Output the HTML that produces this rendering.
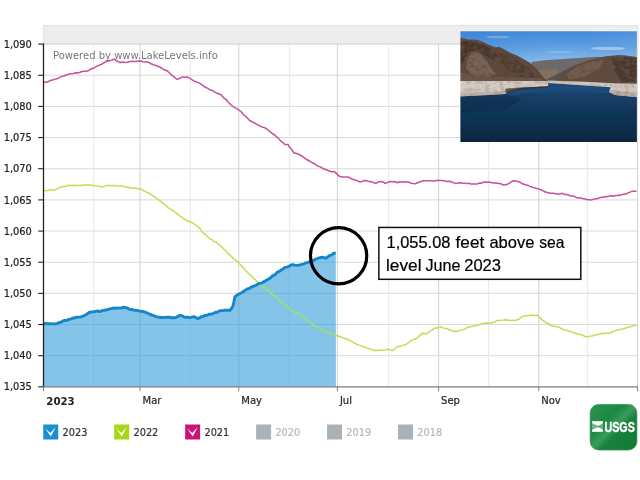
<!DOCTYPE html>
<html><head><meta charset="utf-8"><title>Lake Mead water level</title>
<style>
html,body{margin:0;padding:0;background:#fff;}
body{width:640px;height:480px;overflow:hidden;position:relative;font-family:"DejaVu Sans","Liberation Sans",sans-serif;}
svg{position:absolute;left:0;top:0;}
text{font-family:"DejaVu Sans","Liberation Sans",sans-serif;}
.t{stroke:#222;stroke-width:0.22px;}
.ann{stroke:#000;stroke-width:0.2px;}
.cal{font-family:"Liberation Sans",sans-serif;}
</style></head><body>
<svg width="640" height="480" viewBox="0 0 640 480">
<defs>
<linearGradient id="sky" x1="0" y1="0" x2="0" y2="1"><stop offset="0" stop-color="#3f86d9"/><stop offset="0.25" stop-color="#5a9ce0"/><stop offset="0.5" stop-color="#86b9ea"/><stop offset="1" stop-color="#9cc8ee"/></linearGradient>
<linearGradient id="water" x1="0" y1="0" x2="0" y2="1"><stop offset="0" stop-color="#1f4d7e"/><stop offset="0.28" stop-color="#153e66"/><stop offset="0.55" stop-color="#103457"/><stop offset="1" stop-color="#0c2640"/></linearGradient>
<linearGradient id="usgs" x1="0" y1="0" x2="1" y2="1"><stop offset="0" stop-color="#2a9450"/><stop offset="0.35" stop-color="#1c8843"/><stop offset="0.5" stop-color="#3a9c5d"/><stop offset="0.6" stop-color="#18823d"/><stop offset="1" stop-color="#117a36"/></linearGradient>
<linearGradient id="skyh" x1="0" y1="0" x2="1" y2="0"><stop offset="0" stop-color="#2f78d0" stop-opacity="0.35"/><stop offset="0.6" stop-color="#5a9be0" stop-opacity="0"/><stop offset="1" stop-color="#7ab0e8" stop-opacity="0.25"/></linearGradient>
<filter id="soft" x="-5%" y="-5%" width="110%" height="110%"><feGaussianBlur stdDeviation="0.45"/></filter>
<filter id="rock" filterUnits="userSpaceOnUse" x="455" y="28" width="186" height="120"><feTurbulence type="fractalNoise" baseFrequency="0.2 0.26" numOctaves="3" seed="7" result="n"/><feColorMatrix in="n" type="matrix" values="0 0 0 0 0.12  0 0 0 0 0.08  0 0 0 0 0.06  0 0 0 -5 2.7" result="d"/><feComposite in="d" in2="SourceGraphic" operator="in"/></filter>
<filter id="rockl" filterUnits="userSpaceOnUse" x="455" y="28" width="186" height="120"><feTurbulence type="fractalNoise" baseFrequency="0.4" numOctaves="2" seed="11" result="n"/><feColorMatrix in="n" type="matrix" values="0 0 0 0 0.95  0 0 0 0 0.9  0 0 0 0 0.85  0 0 0 4.0 -2.3" result="d"/><feComposite in="d" in2="SourceGraphic" operator="in"/></filter>
<filter id="lb" filterUnits="userSpaceOnUse" x="0" y="0" width="640" height="480"><feGaussianBlur stdDeviation="0.4"/></filter>
<clipPath id="photoclip"><rect x="460.4" y="31.2" width="176.5" height="110.9"/></clipPath>
</defs>

<rect x="43.5" y="25.4" width="594.6" height="18.6" fill="#ededed" stroke="#e3e3e3" stroke-width="1"/>
<line x1="43.5" y1="44.10" x2="638.0" y2="44.10" stroke="#d2d2d2" stroke-width="0.85"/>
<line x1="43.5" y1="75.26" x2="638.0" y2="75.26" stroke="#d2d2d2" stroke-width="0.85"/>
<line x1="43.5" y1="106.42" x2="638.0" y2="106.42" stroke="#d2d2d2" stroke-width="0.85"/>
<line x1="43.5" y1="137.58" x2="638.0" y2="137.58" stroke="#d2d2d2" stroke-width="0.85"/>
<line x1="43.5" y1="168.74" x2="638.0" y2="168.74" stroke="#d2d2d2" stroke-width="0.85"/>
<line x1="43.5" y1="199.90" x2="638.0" y2="199.90" stroke="#d2d2d2" stroke-width="0.85"/>
<line x1="43.5" y1="231.06" x2="638.0" y2="231.06" stroke="#d2d2d2" stroke-width="0.85"/>
<line x1="43.5" y1="262.22" x2="638.0" y2="262.22" stroke="#d2d2d2" stroke-width="0.85"/>
<line x1="43.5" y1="293.38" x2="638.0" y2="293.38" stroke="#d2d2d2" stroke-width="0.85"/>
<line x1="43.5" y1="324.54" x2="638.0" y2="324.54" stroke="#d2d2d2" stroke-width="0.85"/>
<line x1="43.5" y1="355.70" x2="638.0" y2="355.70" stroke="#d2d2d2" stroke-width="0.85"/>
<line x1="43.5" y1="386.86" x2="638.0" y2="386.86" stroke="#d2d2d2" stroke-width="0.85"/>
<line x1="93.75" y1="44.1" x2="93.75" y2="386.86" stroke="#e6e6ea" stroke-width="0.9"/>
<line x1="140.00" y1="44.1" x2="140.00" y2="386.86" stroke="#cdcdcd" stroke-width="0.9"/>
<line x1="190.40" y1="44.1" x2="190.40" y2="386.86" stroke="#e6e6ea" stroke-width="0.9"/>
<line x1="238.75" y1="44.1" x2="238.75" y2="386.86" stroke="#cdcdcd" stroke-width="0.9"/>
<line x1="289.40" y1="44.1" x2="289.40" y2="386.86" stroke="#e6e6ea" stroke-width="0.9"/>
<line x1="337.40" y1="44.1" x2="337.40" y2="386.86" stroke="#cdcdcd" stroke-width="0.9"/>
<line x1="388.60" y1="44.1" x2="388.60" y2="386.86" stroke="#e6e6ea" stroke-width="0.9"/>
<line x1="438.60" y1="44.1" x2="438.60" y2="386.86" stroke="#cdcdcd" stroke-width="0.9"/>
<line x1="488.50" y1="44.1" x2="488.50" y2="386.86" stroke="#e6e6ea" stroke-width="0.9"/>
<line x1="538.75" y1="44.1" x2="538.75" y2="386.86" stroke="#cdcdcd" stroke-width="0.9"/>
<line x1="587.60" y1="44.1" x2="587.60" y2="386.86" stroke="#e6e6ea" stroke-width="0.9"/>
<line x1="637.50" y1="44.1" x2="637.50" y2="386.86" stroke="#cdcdcd" stroke-width="0.9"/>
<path d="M43.50,323.75 L45.83,323.51 L48.17,323.79 L50.50,323.63 L52.83,323.84 L55.17,323.86 L57.50,323.36 L59.17,322.48 L60.83,322.39 L62.50,321.03 L64.50,320.41 L66.50,320.50 L68.50,319.42 L70.50,319.15 L72.50,318.23 L74.50,317.98 L76.50,317.14 L78.50,317.17 L80.50,316.98 L82.50,316.27 L84.69,315.34 L86.88,314.15 L89.06,312.48 L91.25,311.98 L93.44,311.71 L95.62,311.32 L97.81,310.95 L100.00,311.58 L102.25,310.63 L104.50,310.25 L106.75,309.79 L109.00,309.04 L111.25,308.63 L113.33,308.03 L115.42,308.27 L117.50,307.83 L119.58,308.14 L121.67,307.97 L123.75,307.14 L125.75,307.67 L127.75,308.25 L129.75,309.42 L131.75,309.44 L133.75,310.11 L136.00,310.22 L138.25,310.81 L140.50,311.10 L142.75,311.47 L145.00,312.08 L146.88,312.83 L148.75,313.86 L150.62,314.41 L152.50,315.39 L154.38,315.95 L156.25,316.69 L158.12,317.03 L160.00,317.20 L162.50,317.57 L165.00,317.42 L167.50,317.11 L169.58,317.23 L171.67,317.78 L173.75,317.74 L175.83,317.47 L177.92,316.40 L180.00,315.31 L181.88,315.61 L183.75,316.82 L185.62,317.44 L187.50,317.13 L189.58,317.60 L191.67,317.09 L193.75,316.69 L195.62,317.44 L197.50,318.49 L199.38,317.96 L201.25,316.59 L203.12,316.48 L205.00,315.34 L207.00,315.30 L209.00,314.30 L211.00,314.14 L213.00,313.58 L215.00,312.50 L216.88,312.45 L218.75,311.33 L220.62,310.62 L222.50,310.59 L225.00,310.08 L227.50,310.23 L230.00,310.42 L231.50,308.47 L233.00,305.94 L233.40,303.84 L233.80,302.58 L234.20,300.08 L234.60,298.66 L235.00,296.61 L236.88,295.14 L238.75,294.21 L240.50,293.17 L242.25,292.18 L244.00,291.04 L245.75,289.90 L247.50,288.86 L249.50,288.30 L251.50,287.06 L253.50,286.14 L255.50,285.55 L257.50,284.26 L259.50,283.42 L261.50,283.13 L263.50,281.82 L265.50,280.94 L267.50,279.56 L269.17,278.67 L270.83,277.57 L272.50,275.82 L274.17,275.10 L275.83,273.87 L277.50,272.10 L279.38,271.36 L281.25,269.97 L283.12,268.91 L285.00,267.37 L286.88,267.06 L288.75,266.46 L290.62,265.19 L292.50,264.60 L295.00,265.16 L297.50,265.42 L300.00,264.78 L302.00,264.31 L304.00,263.78 L306.00,262.89 L308.00,262.28 L310.00,261.58 L312.00,260.78 L314.00,260.14 L316.00,259.02 L318.00,258.24 L320.00,257.75 L322.08,257.17 L324.17,257.76 L326.25,258.01 L328.12,256.53 L330.00,255.35 L331.88,254.77 L333.75,253.16 L335.80,253.10 L335.9,386.86 L43.5,386.86 Z" fill="#2b9ad8" fill-opacity="0.58"/>
<path d="M43.50,190.50 L45.55,190.75 L47.60,190.64 L49.65,189.86 L51.70,189.78 L53.75,190.25 L55.83,189.35 L57.92,188.46 L60.00,187.35 L62.19,187.08 L64.38,186.58 L66.56,186.06 L68.75,185.24 L71.07,185.38 L73.39,185.28 L75.71,185.46 L78.04,185.59 L80.36,185.48 L82.68,185.11 L85.00,184.96 L87.19,185.01 L89.38,185.02 L91.56,185.20 L93.75,185.72 L96.25,185.95 L98.75,186.33 L101.25,187.05 L103.33,186.44 L105.42,186.13 L107.50,185.55 L109.58,185.39 L111.67,185.62 L113.75,185.47 L115.83,185.76 L117.92,186.13 L120.00,185.88 L122.00,185.86 L124.00,186.75 L126.00,187.03 L128.00,187.33 L130.00,187.81 L132.00,187.95 L134.00,188.22 L136.00,188.14 L138.00,188.87 L140.00,189.10 L142.00,189.49 L144.00,190.94 L146.00,191.91 L148.00,192.72 L150.00,193.77 L151.67,194.88 L153.33,196.36 L155.00,197.18 L156.67,198.57 L158.33,199.35 L160.00,200.89 L161.88,202.48 L163.75,203.72 L165.62,205.38 L167.50,207.22 L169.25,208.31 L171.00,209.37 L172.75,210.41 L174.50,211.73 L176.25,213.25 L178.00,214.11 L179.75,215.93 L181.50,216.70 L183.25,218.45 L185.00,219.26 L187.08,220.70 L189.17,221.46 L191.25,222.25 L193.13,223.38 L195.02,224.60 L196.90,225.67 L198.30,227.03 L199.70,228.53 L201.10,230.33 L202.50,232.23 L204.00,233.36 L205.50,234.32 L207.00,236.25 L208.50,237.55 L210.00,239.06 L212.08,239.77 L214.17,241.44 L216.25,242.16 L218.12,244.18 L220.00,245.45 L221.88,246.98 L223.75,249.04 L225.00,249.90 L226.25,251.67 L227.50,253.37 L229.27,254.47 L231.03,256.01 L232.80,258.09 L234.57,259.31 L236.33,261.10 L238.10,262.14 L239.67,264.06 L241.23,265.58 L242.80,267.63 L244.37,268.85 L245.93,271.18 L247.50,272.14 L249.11,274.19 L250.71,275.16 L252.32,276.86 L253.93,278.80 L255.54,279.81 L257.14,281.35 L258.75,283.25 L260.50,284.39 L262.25,285.51 L264.00,287.61 L265.75,288.36 L267.50,289.65 L268.75,291.13 L270.00,292.59 L271.88,294.25 L273.75,295.33 L275.62,297.06 L277.50,298.39 L279.25,300.08 L281.00,301.69 L282.75,303.04 L284.50,304.54 L286.25,305.79 L287.81,307.29 L289.38,308.58 L290.94,309.82 L292.50,311.04 L294.58,312.21 L296.67,312.78 L298.75,313.45 L300.62,315.12 L302.50,316.86 L304.38,317.70 L306.25,319.46 L308.12,320.72 L310.00,322.21 L311.88,323.33 L313.75,325.35 L315.83,326.07 L317.92,327.58 L320.00,328.69 L322.08,329.63 L324.17,331.29 L326.25,332.23 L328.44,332.79 L330.62,333.40 L332.81,334.12 L335.00,334.69 L337.08,335.74 L339.17,336.27 L341.25,337.27 L343.12,337.88 L345.00,338.58 L347.00,339.01 L349.00,340.18 L351.00,341.04 L353.00,342.31 L355.00,343.34 L357.00,344.33 L359.00,345.11 L361.00,345.62 L363.00,346.59 L365.00,347.52 L367.19,347.87 L369.38,348.65 L371.56,349.68 L373.75,350.20 L375.94,350.67 L378.12,350.30 L380.31,350.20 L382.50,350.26 L384.58,349.88 L386.67,349.45 L388.75,349.27 L390.62,349.97 L392.50,350.61 L394.17,349.36 L395.83,347.53 L397.50,346.56 L400.00,346.19 L402.50,345.59 L405.00,344.95 L406.88,343.76 L408.75,342.56 L410.62,340.91 L412.50,339.94 L415.00,339.02 L417.50,337.76 L419.17,336.02 L420.83,334.90 L422.50,332.90 L424.38,333.39 L426.25,334.07 L428.12,332.58 L430.00,331.09 L431.88,330.37 L433.75,328.65 L435.62,327.95 L437.50,328.02 L439.38,327.13 L441.25,326.85 L443.12,327.88 L445.00,328.38 L446.88,328.51 L448.75,329.46 L450.83,330.18 L452.92,330.99 L455.00,331.53 L457.08,331.40 L459.17,330.59 L461.25,330.34 L463.33,329.40 L465.42,328.83 L467.50,327.18 L469.38,327.26 L471.25,326.39 L473.12,326.24 L475.00,325.67 L476.88,325.22 L478.75,324.94 L480.62,324.17 L482.50,323.46 L485.00,323.21 L487.50,322.93 L490.00,323.27 L491.88,322.54 L493.75,322.22 L495.62,321.46 L497.50,320.39 L500.00,320.45 L502.50,320.13 L505.00,319.67 L507.50,320.00 L510.00,320.39 L512.50,320.30 L515.00,320.39 L517.50,319.82 L519.06,318.89 L520.62,317.73 L522.19,316.97 L523.75,315.73 L526.04,315.83 L528.33,315.76 L530.62,315.35 L532.92,315.30 L535.21,315.49 L537.50,315.32 L539.17,316.95 L540.83,318.64 L542.50,320.32 L544.38,321.32 L546.25,322.74 L548.12,323.44 L550.00,324.89 L552.00,325.98 L554.00,325.93 L556.00,326.74 L558.00,327.07 L560.00,327.69 L562.00,329.05 L564.00,329.87 L566.00,330.36 L568.00,330.72 L570.00,331.60 L572.00,332.10 L574.00,332.98 L576.00,333.54 L578.00,333.90 L580.00,334.52 L581.88,334.83 L583.75,335.78 L585.62,336.72 L587.50,337.19 L589.38,336.19 L591.25,336.01 L593.12,335.66 L595.00,334.82 L596.88,334.86 L598.75,334.10 L600.62,333.84 L602.50,333.18 L605.00,333.54 L607.50,333.30 L610.00,333.06 L611.88,331.98 L613.75,331.46 L615.62,330.39 L617.50,330.07 L619.38,329.85 L621.25,328.88 L623.12,328.70 L625.00,328.24 L626.88,327.55 L628.75,327.16 L630.62,326.71 L632.50,325.91 L634.50,325.35 L636.50,325.00" fill="none" stroke="#c3dc55" stroke-width="1.5" filter="url(#lb)" stroke-linejoin="round"/>
<clipPath id="fillclip"><path d="M43.50,323.75 L45.83,323.51 L48.17,323.79 L50.50,323.63 L52.83,323.84 L55.17,323.86 L57.50,323.36 L59.17,322.48 L60.83,322.39 L62.50,321.03 L64.50,320.41 L66.50,320.50 L68.50,319.42 L70.50,319.15 L72.50,318.23 L74.50,317.98 L76.50,317.14 L78.50,317.17 L80.50,316.98 L82.50,316.27 L84.69,315.34 L86.88,314.15 L89.06,312.48 L91.25,311.98 L93.44,311.71 L95.62,311.32 L97.81,310.95 L100.00,311.58 L102.25,310.63 L104.50,310.25 L106.75,309.79 L109.00,309.04 L111.25,308.63 L113.33,308.03 L115.42,308.27 L117.50,307.83 L119.58,308.14 L121.67,307.97 L123.75,307.14 L125.75,307.67 L127.75,308.25 L129.75,309.42 L131.75,309.44 L133.75,310.11 L136.00,310.22 L138.25,310.81 L140.50,311.10 L142.75,311.47 L145.00,312.08 L146.88,312.83 L148.75,313.86 L150.62,314.41 L152.50,315.39 L154.38,315.95 L156.25,316.69 L158.12,317.03 L160.00,317.20 L162.50,317.57 L165.00,317.42 L167.50,317.11 L169.58,317.23 L171.67,317.78 L173.75,317.74 L175.83,317.47 L177.92,316.40 L180.00,315.31 L181.88,315.61 L183.75,316.82 L185.62,317.44 L187.50,317.13 L189.58,317.60 L191.67,317.09 L193.75,316.69 L195.62,317.44 L197.50,318.49 L199.38,317.96 L201.25,316.59 L203.12,316.48 L205.00,315.34 L207.00,315.30 L209.00,314.30 L211.00,314.14 L213.00,313.58 L215.00,312.50 L216.88,312.45 L218.75,311.33 L220.62,310.62 L222.50,310.59 L225.00,310.08 L227.50,310.23 L230.00,310.42 L231.50,308.47 L233.00,305.94 L233.40,303.84 L233.80,302.58 L234.20,300.08 L234.60,298.66 L235.00,296.61 L236.88,295.14 L238.75,294.21 L240.50,293.17 L242.25,292.18 L244.00,291.04 L245.75,289.90 L247.50,288.86 L249.50,288.30 L251.50,287.06 L253.50,286.14 L255.50,285.55 L257.50,284.26 L259.50,283.42 L261.50,283.13 L263.50,281.82 L265.50,280.94 L267.50,279.56 L269.17,278.67 L270.83,277.57 L272.50,275.82 L274.17,275.10 L275.83,273.87 L277.50,272.10 L279.38,271.36 L281.25,269.97 L283.12,268.91 L285.00,267.37 L286.88,267.06 L288.75,266.46 L290.62,265.19 L292.50,264.60 L295.00,265.16 L297.50,265.42 L300.00,264.78 L302.00,264.31 L304.00,263.78 L306.00,262.89 L308.00,262.28 L310.00,261.58 L312.00,260.78 L314.00,260.14 L316.00,259.02 L318.00,258.24 L320.00,257.75 L322.08,257.17 L324.17,257.76 L326.25,258.01 L328.12,256.53 L330.00,255.35 L331.88,254.77 L333.75,253.16 L335.80,253.10 L335.9,386.86 L43.5,386.86 Z"/></clipPath>
<path d="M43.50,190.50 L45.55,190.75 L47.60,190.64 L49.65,189.86 L51.70,189.78 L53.75,190.25 L55.83,189.35 L57.92,188.46 L60.00,187.35 L62.19,187.08 L64.38,186.58 L66.56,186.06 L68.75,185.24 L71.07,185.38 L73.39,185.28 L75.71,185.46 L78.04,185.59 L80.36,185.48 L82.68,185.11 L85.00,184.96 L87.19,185.01 L89.38,185.02 L91.56,185.20 L93.75,185.72 L96.25,185.95 L98.75,186.33 L101.25,187.05 L103.33,186.44 L105.42,186.13 L107.50,185.55 L109.58,185.39 L111.67,185.62 L113.75,185.47 L115.83,185.76 L117.92,186.13 L120.00,185.88 L122.00,185.86 L124.00,186.75 L126.00,187.03 L128.00,187.33 L130.00,187.81 L132.00,187.95 L134.00,188.22 L136.00,188.14 L138.00,188.87 L140.00,189.10 L142.00,189.49 L144.00,190.94 L146.00,191.91 L148.00,192.72 L150.00,193.77 L151.67,194.88 L153.33,196.36 L155.00,197.18 L156.67,198.57 L158.33,199.35 L160.00,200.89 L161.88,202.48 L163.75,203.72 L165.62,205.38 L167.50,207.22 L169.25,208.31 L171.00,209.37 L172.75,210.41 L174.50,211.73 L176.25,213.25 L178.00,214.11 L179.75,215.93 L181.50,216.70 L183.25,218.45 L185.00,219.26 L187.08,220.70 L189.17,221.46 L191.25,222.25 L193.13,223.38 L195.02,224.60 L196.90,225.67 L198.30,227.03 L199.70,228.53 L201.10,230.33 L202.50,232.23 L204.00,233.36 L205.50,234.32 L207.00,236.25 L208.50,237.55 L210.00,239.06 L212.08,239.77 L214.17,241.44 L216.25,242.16 L218.12,244.18 L220.00,245.45 L221.88,246.98 L223.75,249.04 L225.00,249.90 L226.25,251.67 L227.50,253.37 L229.27,254.47 L231.03,256.01 L232.80,258.09 L234.57,259.31 L236.33,261.10 L238.10,262.14 L239.67,264.06 L241.23,265.58 L242.80,267.63 L244.37,268.85 L245.93,271.18 L247.50,272.14 L249.11,274.19 L250.71,275.16 L252.32,276.86 L253.93,278.80 L255.54,279.81 L257.14,281.35 L258.75,283.25 L260.50,284.39 L262.25,285.51 L264.00,287.61 L265.75,288.36 L267.50,289.65 L268.75,291.13 L270.00,292.59 L271.88,294.25 L273.75,295.33 L275.62,297.06 L277.50,298.39 L279.25,300.08 L281.00,301.69 L282.75,303.04 L284.50,304.54 L286.25,305.79 L287.81,307.29 L289.38,308.58 L290.94,309.82 L292.50,311.04 L294.58,312.21 L296.67,312.78 L298.75,313.45 L300.62,315.12 L302.50,316.86 L304.38,317.70 L306.25,319.46 L308.12,320.72 L310.00,322.21 L311.88,323.33 L313.75,325.35 L315.83,326.07 L317.92,327.58 L320.00,328.69 L322.08,329.63 L324.17,331.29 L326.25,332.23 L328.44,332.79 L330.62,333.40 L332.81,334.12 L335.00,334.69 L337.08,335.74 L339.17,336.27 L341.25,337.27 L343.12,337.88 L345.00,338.58 L347.00,339.01 L349.00,340.18 L351.00,341.04 L353.00,342.31 L355.00,343.34 L357.00,344.33 L359.00,345.11 L361.00,345.62 L363.00,346.59 L365.00,347.52 L367.19,347.87 L369.38,348.65 L371.56,349.68 L373.75,350.20 L375.94,350.67 L378.12,350.30 L380.31,350.20 L382.50,350.26 L384.58,349.88 L386.67,349.45 L388.75,349.27 L390.62,349.97 L392.50,350.61 L394.17,349.36 L395.83,347.53 L397.50,346.56 L400.00,346.19 L402.50,345.59 L405.00,344.95 L406.88,343.76 L408.75,342.56 L410.62,340.91 L412.50,339.94 L415.00,339.02 L417.50,337.76 L419.17,336.02 L420.83,334.90 L422.50,332.90 L424.38,333.39 L426.25,334.07 L428.12,332.58 L430.00,331.09 L431.88,330.37 L433.75,328.65 L435.62,327.95 L437.50,328.02 L439.38,327.13 L441.25,326.85 L443.12,327.88 L445.00,328.38 L446.88,328.51 L448.75,329.46 L450.83,330.18 L452.92,330.99 L455.00,331.53 L457.08,331.40 L459.17,330.59 L461.25,330.34 L463.33,329.40 L465.42,328.83 L467.50,327.18 L469.38,327.26 L471.25,326.39 L473.12,326.24 L475.00,325.67 L476.88,325.22 L478.75,324.94 L480.62,324.17 L482.50,323.46 L485.00,323.21 L487.50,322.93 L490.00,323.27 L491.88,322.54 L493.75,322.22 L495.62,321.46 L497.50,320.39 L500.00,320.45 L502.50,320.13 L505.00,319.67 L507.50,320.00 L510.00,320.39 L512.50,320.30 L515.00,320.39 L517.50,319.82 L519.06,318.89 L520.62,317.73 L522.19,316.97 L523.75,315.73 L526.04,315.83 L528.33,315.76 L530.62,315.35 L532.92,315.30 L535.21,315.49 L537.50,315.32 L539.17,316.95 L540.83,318.64 L542.50,320.32 L544.38,321.32 L546.25,322.74 L548.12,323.44 L550.00,324.89 L552.00,325.98 L554.00,325.93 L556.00,326.74 L558.00,327.07 L560.00,327.69 L562.00,329.05 L564.00,329.87 L566.00,330.36 L568.00,330.72 L570.00,331.60 L572.00,332.10 L574.00,332.98 L576.00,333.54 L578.00,333.90 L580.00,334.52 L581.88,334.83 L583.75,335.78 L585.62,336.72 L587.50,337.19 L589.38,336.19 L591.25,336.01 L593.12,335.66 L595.00,334.82 L596.88,334.86 L598.75,334.10 L600.62,333.84 L602.50,333.18 L605.00,333.54 L607.50,333.30 L610.00,333.06 L611.88,331.98 L613.75,331.46 L615.62,330.39 L617.50,330.07 L619.38,329.85 L621.25,328.88 L623.12,328.70 L625.00,328.24 L626.88,327.55 L628.75,327.16 L630.62,326.71 L632.50,325.91 L634.50,325.35 L636.50,325.00" fill="none" stroke="#97d88c" stroke-width="2.1" stroke-linejoin="round" clip-path="url(#fillclip)" filter="url(#lb)"/>
<path d="M43.50,83.00 L44.50,82.19 L46.50,82.17 L48.50,81.47 L50.50,80.42 L52.50,80.00 L54.38,79.33 L56.25,78.88 L58.12,78.37 L60.00,77.16 L61.88,76.35 L63.75,76.28 L65.62,75.19 L67.50,74.72 L69.50,73.68 L71.50,73.65 L73.50,73.49 L75.50,72.67 L77.50,72.87 L79.62,72.52 L81.75,71.48 L83.88,71.16 L86.00,71.28 L88.00,70.81 L90.00,69.53 L92.00,68.57 L94.00,67.93 L96.12,66.54 L98.25,65.64 L100.38,64.76 L102.50,63.75 L104.17,62.69 L105.83,61.86 L107.50,61.01 L109.83,60.63 L112.17,59.91 L114.50,59.10 L116.33,60.78 L118.17,61.55 L120.00,62.62 L122.50,62.07 L125.00,62.58 L127.50,62.30 L129.80,61.43 L132.10,61.36 L134.40,61.44 L136.70,61.18 L139.00,61.12 L141.00,61.03 L143.00,61.73 L145.00,61.94 L147.00,61.98 L149.00,62.57 L151.12,63.76 L153.25,64.67 L155.38,65.32 L157.50,66.32 L159.50,66.86 L161.50,68.03 L163.50,69.50 L165.50,70.18 L167.50,70.98 L169.12,72.73 L170.75,74.30 L172.38,75.71 L174.00,76.89 L175.50,78.07 L177.00,79.26 L178.83,78.73 L180.67,77.77 L182.50,76.91 L185.00,77.24 L187.50,77.10 L189.67,78.12 L191.83,79.67 L194.00,80.91 L196.00,81.66 L198.00,82.58 L200.00,83.47 L202.00,84.90 L204.00,86.45 L206.00,87.43 L208.00,88.38 L210.00,89.80 L211.83,90.19 L213.67,91.34 L215.50,92.63 L217.33,93.23 L219.17,94.05 L221.00,94.81 L222.64,96.61 L224.29,98.53 L225.93,99.30 L227.57,101.52 L229.21,103.13 L230.86,104.75 L232.50,106.20 L234.67,107.59 L236.83,108.68 L239.00,110.05 L240.57,111.47 L242.14,112.70 L243.71,114.92 L245.29,116.20 L246.86,117.43 L248.43,119.22 L250.00,120.74 L252.00,121.68 L254.00,122.72 L256.00,123.93 L258.00,125.05 L260.00,126.09 L262.00,126.88 L264.00,127.44 L266.00,128.52 L267.80,129.73 L269.60,131.32 L271.40,132.80 L273.20,134.00 L275.00,135.25 L276.67,136.93 L278.33,138.13 L280.00,140.29 L281.67,141.81 L283.33,142.98 L285.00,144.59 L288.00,144.59 L289.20,146.81 L290.40,147.99 L291.60,149.47 L292.80,151.50 L294.00,152.87 L296.00,153.31 L298.00,154.05 L300.00,155.02 L301.88,155.97 L303.75,157.31 L305.62,158.93 L307.50,159.96 L309.50,161.05 L311.50,162.38 L313.50,163.20 L315.50,164.70 L317.50,165.93 L319.50,166.64 L321.50,167.47 L323.50,169.04 L325.50,169.61 L327.50,170.26 L329.38,171.09 L331.25,171.77 L333.12,171.60 L335.00,172.10 L336.67,173.62 L338.33,175.52 L340.00,176.46 L342.50,177.01 L345.00,177.07 L347.50,177.04 L349.67,177.60 L351.83,179.07 L354.00,179.75 L356.00,180.35 L358.00,180.93 L360.00,182.12 L362.50,181.16 L365.00,180.56 L367.00,180.85 L369.00,181.61 L371.00,181.63 L373.00,182.33 L375.00,183.39 L377.00,182.73 L379.00,181.67 L381.00,181.55 L383.00,181.97 L385.00,183.37 L387.50,182.45 L390.00,181.43 L392.50,181.63 L395.00,181.75 L397.50,182.82 L399.67,181.78 L401.83,182.10 L404.00,181.89 L406.20,181.96 L408.40,182.02 L410.60,183.01 L412.80,183.50 L415.00,183.67 L417.00,182.91 L419.00,182.20 L421.00,181.57 L423.00,180.85 L425.00,180.65 L427.50,180.69 L430.00,180.74 L432.50,180.92 L435.00,181.01 L437.50,180.33 L440.00,180.58 L442.50,180.52 L445.00,181.06 L447.00,181.54 L449.00,181.25 L451.00,181.85 L453.00,182.41 L455.00,183.41 L457.00,183.24 L459.00,182.86 L461.00,182.76 L463.00,183.15 L465.00,183.28 L467.00,183.56 L469.00,183.27 L471.00,183.92 L473.00,183.96 L475.00,183.99 L477.08,184.07 L479.17,183.11 L481.25,183.19 L483.33,182.32 L485.42,182.06 L487.50,182.35 L489.50,182.01 L491.50,182.72 L493.50,182.83 L495.50,183.29 L497.50,183.14 L499.38,183.55 L501.25,183.95 L503.12,184.87 L505.00,185.09 L507.19,184.32 L509.38,183.20 L511.56,181.51 L513.75,180.79 L515.83,181.00 L517.92,181.53 L520.00,182.14 L522.00,183.56 L524.00,184.24 L526.00,185.03 L528.00,185.37 L530.00,186.35 L532.19,187.24 L534.38,187.65 L536.56,188.56 L538.75,189.02 L540.94,189.71 L543.12,190.68 L545.31,192.02 L547.50,192.55 L550.00,193.27 L552.50,193.30 L555.00,193.56 L557.50,193.99 L560.00,194.03 L562.50,193.34 L564.50,194.39 L566.50,194.41 L568.50,194.93 L570.50,196.07 L572.50,195.86 L574.50,196.53 L576.50,197.66 L578.50,197.68 L580.50,197.93 L582.50,198.47 L585.00,198.95 L587.50,199.79 L590.00,199.67 L591.88,199.91 L593.75,199.02 L595.62,199.08 L597.50,198.59 L599.50,197.73 L601.50,197.34 L603.50,197.18 L605.50,196.51 L607.50,196.63 L609.50,195.91 L611.50,195.69 L613.50,196.31 L615.50,195.53 L617.50,195.58 L619.58,195.12 L621.67,194.68 L623.75,194.13 L625.83,193.93 L627.92,193.06 L630.00,192.14 L632.17,191.26 L634.33,191.18 L636.50,191.25" fill="none" stroke="#c4549a" stroke-width="1.55" filter="url(#lb)" stroke-linejoin="round"/>
<path d="M43.50,323.75 L45.83,323.51 L48.17,323.79 L50.50,323.63 L52.83,323.84 L55.17,323.86 L57.50,323.36 L59.17,322.48 L60.83,322.39 L62.50,321.03 L64.50,320.41 L66.50,320.50 L68.50,319.42 L70.50,319.15 L72.50,318.23 L74.50,317.98 L76.50,317.14 L78.50,317.17 L80.50,316.98 L82.50,316.27 L84.69,315.34 L86.88,314.15 L89.06,312.48 L91.25,311.98 L93.44,311.71 L95.62,311.32 L97.81,310.95 L100.00,311.58 L102.25,310.63 L104.50,310.25 L106.75,309.79 L109.00,309.04 L111.25,308.63 L113.33,308.03 L115.42,308.27 L117.50,307.83 L119.58,308.14 L121.67,307.97 L123.75,307.14 L125.75,307.67 L127.75,308.25 L129.75,309.42 L131.75,309.44 L133.75,310.11 L136.00,310.22 L138.25,310.81 L140.50,311.10 L142.75,311.47 L145.00,312.08 L146.88,312.83 L148.75,313.86 L150.62,314.41 L152.50,315.39 L154.38,315.95 L156.25,316.69 L158.12,317.03 L160.00,317.20 L162.50,317.57 L165.00,317.42 L167.50,317.11 L169.58,317.23 L171.67,317.78 L173.75,317.74 L175.83,317.47 L177.92,316.40 L180.00,315.31 L181.88,315.61 L183.75,316.82 L185.62,317.44 L187.50,317.13 L189.58,317.60 L191.67,317.09 L193.75,316.69 L195.62,317.44 L197.50,318.49 L199.38,317.96 L201.25,316.59 L203.12,316.48 L205.00,315.34 L207.00,315.30 L209.00,314.30 L211.00,314.14 L213.00,313.58 L215.00,312.50 L216.88,312.45 L218.75,311.33 L220.62,310.62 L222.50,310.59 L225.00,310.08 L227.50,310.23 L230.00,310.42 L231.50,308.47 L233.00,305.94 L233.40,303.84 L233.80,302.58 L234.20,300.08 L234.60,298.66 L235.00,296.61 L236.88,295.14 L238.75,294.21 L240.50,293.17 L242.25,292.18 L244.00,291.04 L245.75,289.90 L247.50,288.86 L249.50,288.30 L251.50,287.06 L253.50,286.14 L255.50,285.55 L257.50,284.26 L259.50,283.42 L261.50,283.13 L263.50,281.82 L265.50,280.94 L267.50,279.56 L269.17,278.67 L270.83,277.57 L272.50,275.82 L274.17,275.10 L275.83,273.87 L277.50,272.10 L279.38,271.36 L281.25,269.97 L283.12,268.91 L285.00,267.37 L286.88,267.06 L288.75,266.46 L290.62,265.19 L292.50,264.60 L295.00,265.16 L297.50,265.42 L300.00,264.78 L302.00,264.31 L304.00,263.78 L306.00,262.89 L308.00,262.28 L310.00,261.58 L312.00,260.78 L314.00,260.14 L316.00,259.02 L318.00,258.24 L320.00,257.75 L322.08,257.17 L324.17,257.76 L326.25,258.01 L328.12,256.53 L330.00,255.35 L331.88,254.77 L333.75,253.16 L335.80,253.10" fill="none" stroke="#1585c9" stroke-width="2.9" filter="url(#lb)" stroke-linejoin="round" stroke-linecap="butt"/>
<line x1="43.5" y1="43.6" x2="43.5" y2="387.36" stroke="#222" stroke-width="1.3"/>
<line x1="43.0" y1="386.86" x2="638.0" y2="386.86" stroke="#858585" stroke-width="1.1"/>
<line x1="38.2" y1="44.10" x2="43.5" y2="44.10" stroke="#1a1a1a" stroke-width="1.05"/>
<text x="31.9" y="47.70" font-size="9.85" text-anchor="end" fill="#222" class="t">1,090</text>
<line x1="38.2" y1="75.26" x2="43.5" y2="75.26" stroke="#1a1a1a" stroke-width="1.05"/>
<text x="31.9" y="78.86" font-size="9.85" text-anchor="end" fill="#222" class="t">1,085</text>
<line x1="38.2" y1="106.42" x2="43.5" y2="106.42" stroke="#1a1a1a" stroke-width="1.05"/>
<text x="31.9" y="110.02" font-size="9.85" text-anchor="end" fill="#222" class="t">1,080</text>
<line x1="38.2" y1="137.58" x2="43.5" y2="137.58" stroke="#1a1a1a" stroke-width="1.05"/>
<text x="31.9" y="141.18" font-size="9.85" text-anchor="end" fill="#222" class="t">1,075</text>
<line x1="38.2" y1="168.74" x2="43.5" y2="168.74" stroke="#1a1a1a" stroke-width="1.05"/>
<text x="31.9" y="172.34" font-size="9.85" text-anchor="end" fill="#222" class="t">1,070</text>
<line x1="38.2" y1="199.90" x2="43.5" y2="199.90" stroke="#1a1a1a" stroke-width="1.05"/>
<text x="31.9" y="203.50" font-size="9.85" text-anchor="end" fill="#222" class="t">1,065</text>
<line x1="38.2" y1="231.06" x2="43.5" y2="231.06" stroke="#1a1a1a" stroke-width="1.05"/>
<text x="31.9" y="234.66" font-size="9.85" text-anchor="end" fill="#222" class="t">1,060</text>
<line x1="38.2" y1="262.22" x2="43.5" y2="262.22" stroke="#1a1a1a" stroke-width="1.05"/>
<text x="31.9" y="265.82" font-size="9.85" text-anchor="end" fill="#222" class="t">1,055</text>
<line x1="38.2" y1="293.38" x2="43.5" y2="293.38" stroke="#1a1a1a" stroke-width="1.05"/>
<text x="31.9" y="296.98" font-size="9.85" text-anchor="end" fill="#222" class="t">1,050</text>
<line x1="38.2" y1="324.54" x2="43.5" y2="324.54" stroke="#1a1a1a" stroke-width="1.05"/>
<text x="31.9" y="328.14" font-size="9.85" text-anchor="end" fill="#222" class="t">1,045</text>
<line x1="38.2" y1="355.70" x2="43.5" y2="355.70" stroke="#1a1a1a" stroke-width="1.05"/>
<text x="31.9" y="359.30" font-size="9.85" text-anchor="end" fill="#222" class="t">1,040</text>
<line x1="38.2" y1="386.86" x2="43.5" y2="386.86" stroke="#1a1a1a" stroke-width="1.05"/>
<text x="31.9" y="390.46" font-size="9.85" text-anchor="end" fill="#222" class="t">1,035</text>
<line x1="43.50" y1="386.86" x2="43.50" y2="391.36" stroke="#777" stroke-width="0.9"/>
<line x1="140.00" y1="386.86" x2="140.00" y2="391.36" stroke="#777" stroke-width="0.9"/>
<line x1="238.75" y1="386.86" x2="238.75" y2="391.36" stroke="#777" stroke-width="0.9"/>
<line x1="337.40" y1="386.86" x2="337.40" y2="391.36" stroke="#777" stroke-width="0.9"/>
<line x1="438.60" y1="386.86" x2="438.60" y2="391.36" stroke="#777" stroke-width="0.9"/>
<line x1="538.75" y1="386.86" x2="538.75" y2="391.36" stroke="#777" stroke-width="0.9"/>
<line x1="637.50" y1="386.86" x2="637.50" y2="391.36" stroke="#777" stroke-width="0.9"/>
<text x="46.30" y="404.66" font-size="10.2" font-weight="bold" fill="#222">2023</text>
<text x="142.50" y="404.36" font-size="10" fill="#2a2a2a" class="t">Mar</text>
<text x="241.25" y="404.36" font-size="10" fill="#2a2a2a" class="t">May</text>
<text x="339.90" y="404.36" font-size="10" fill="#2a2a2a" class="t">Jul</text>
<text x="441.10" y="404.36" font-size="10" fill="#2a2a2a" class="t">Sep</text>
<text x="541.25" y="404.36" font-size="10" fill="#2a2a2a" class="t">Nov</text>
<text x="53" y="59.3" font-size="10" fill="#777">Powered by www.LakeLevels.info</text>
<rect x="43.25" y="424.5" width="15" height="15" fill="#1b8fd1"/>
<path d="M45.15,428.2 L50.25,433.0 L55.65,427.3 L50.85,436.6 Z" fill="#fff"/>
<text x="62.55" y="436.1" font-size="9.75" fill="#333" stroke="#333" stroke-width="0.2">2023</text>
<rect x="114.20" y="424.5" width="15" height="15" fill="#a6d714"/>
<path d="M116.10,428.2 L121.20,433.0 L126.60,427.3 L121.80,436.6 Z" fill="#fff"/>
<text x="133.50" y="436.1" font-size="9.75" fill="#333" stroke="#333" stroke-width="0.2">2022</text>
<rect x="185.15" y="424.5" width="15" height="15" fill="#c9157a"/>
<path d="M187.05,428.2 L192.15,433.0 L197.55,427.3 L192.75,436.6 Z" fill="#fff"/>
<text x="204.45" y="436.1" font-size="9.75" fill="#333" stroke="#333" stroke-width="0.2">2021</text>
<rect x="256.10" y="424.5" width="15" height="15" fill="#a9b2b7"/>
<text x="275.40" y="436.1" font-size="9.75" fill="#b4b9bc" stroke="#b4b9bc" stroke-width="0.2">2020</text>
<rect x="327.05" y="424.5" width="15" height="15" fill="#a9b2b7"/>
<text x="346.35" y="436.1" font-size="9.75" fill="#b4b9bc" stroke="#b4b9bc" stroke-width="0.2">2019</text>
<rect x="398.00" y="424.5" width="15" height="15" fill="#a9b2b7"/>
<text x="417.30" y="436.1" font-size="9.75" fill="#b4b9bc" stroke="#b4b9bc" stroke-width="0.2">2018</text>
<rect x="459.8" y="30.4" width="177.6" height="112.2" fill="#fbf6ee"/>
<g clip-path="url(#photoclip)" filter="url(#soft)">
<rect x="459" y="30" width="180" height="60" fill="url(#sky)"/>
<rect x="459" y="30" width="180" height="60" fill="url(#skyh)"/>
<ellipse cx="608" cy="48.5" rx="17" ry="1.6" fill="#b5d0ee" opacity="0.75"/>
<ellipse cx="498" cy="37" rx="12" ry="1.3" fill="#8fbaea" opacity="0.6"/>
<ellipse cx="560" cy="52" rx="14" ry="1.2" fill="#9cc4ee" opacity="0.5"/>
<rect x="459" y="80" width="180" height="64" fill="url(#water)"/>
<path d="M531.6,62 L544,60.3 L574,58.2 L597,56.8 L612,58 L612,82 L531,82 Z" fill="#6e6b6c"/>
<path d="M538,70 L556,69 L560,73 L552,79 L540,80 Z" fill="#8a715d" opacity="0.85"/>
<path d="M545,80.5 L561,72 L570,67.5 L582,66 L582,82 L545,82 Z" fill="#595253"/>
<path d="M556,80.5 L562,74 L574,65.5 L589,60.3 L604,56.5 L619,55 L628,55.8 L638,57.3 L638,85 L600,83.5 L556,82 Z" fill="#604a3e"/>
<path d="M566,74 L578,66 L592,61.5 L604,60 L600,68 L586,76 L570,80 Z" fill="#7a6354" opacity="0.75"/>
<path d="M612,58 L628,57 L638,59 L638,82 L622,82 L615,72 Z" fill="#45342c" opacity="0.8"/>
<path d="M459,37.6 L467.4,39.4 L476.8,39.8 L481.4,41.3 L489,45 L495.5,47.3 L499.3,46.9 L504.9,49.7 L510.5,53 L518,56 L530.2,63 L536.8,69 L545.2,79.4 L547,82 L459,82 Z" fill="#5c463a"/>
<path d="M459,40 L470,41.5 L482,44 L492,49 L498,56 L494,60 L486,56 L478,50 L468,52 L464,62 L459,66 Z" fill="#3f2f28" opacity="0.75"/>
<path d="M468.5,57 L473,52 L480,53.5 L486,60 L491,68 L496,74 L486,77 L472,75 L466,68 Z" fill="#8c7564" opacity="0.6"/>
<path d="M498,52 L510,56 L520,62 L530,70 L536,78 L520,78 L508,70 L500,62 Z" fill="#4d3a30" opacity="0.7"/>
<path d="M459,72 L470,75 L500,77 L540,78 L546,81.5 L459,81.5 Z" fill="#6d5748" opacity="0.8"/>
<g filter="url(#rock)" opacity="0.6"><path d="M459,37.6 L467.4,39.4 L476.8,39.8 L481.4,41.3 L489,45 L495.5,47.3 L499.3,46.9 L504.9,49.7 L510.5,53 L518,56 L530.2,63 L536.8,69 L545.2,79.4 L547,82 L459,82 Z M556,80.5 L562,74 L574,65.5 L589,60.3 L604,56.5 L619,55 L628,55.8 L638,57.3 L638,85 L600,83.5 L556,82 Z" fill="#000"/></g>
<path d="M459,81 L548.6,81 L548,86.3 L521,87.8 L508,91.2 L506,94 L484,95.2 L459,96.6 Z" fill="#d3cbc3"/>
<path d="M459,92.5 L484,92 L505,91 L506,94 L484,95.2 L459,96.6 Z" fill="#b9aea3" opacity="0.9"/>
<path d="M548,80.4 L584.5,81.8 L613,83.3 L638,83.8 L638,97.3 L615,95 L609,92 L610.5,87.3 L584.5,85.4 L548,83 Z" fill="#d0c8bf"/>
<path d="M611,90 L638,92.5 L638,97.3 L615,95 L609,92 Z" fill="#b5aaa0" opacity="0.9"/>
<g filter="url(#rock)" opacity="0.18"><path d="M459,81 L548.6,81 L548,86.3 L521,87.8 L508,91.2 L506,94 L484,95.2 L459,96.6 Z M548,80.4 L584.5,81.8 L613,83.3 L638,83.8 L638,97.3 L615,95 L609,92 L610.5,87.3 L584.5,85.4 L548,83 Z" fill="#000"/></g>
<path d="M507,92 L520,88.5 L548,87 L584,86 L609,88 L608,93 L560,91.5 L530,93 L508,96 Z" fill="#285888" opacity="0.4"/>
<path d="M459,96.6 L484,95.2 L506,94 L522,99 L505,110 L459,113 Z" fill="#0c2138" opacity="0.3"/>
<path d="M506,88.6 L521,87.6 L548,86.2 L548,87.6 L521,89.4 L508,92.4 L506,94 L505,91 Z" fill="#3a2c26" opacity="0.7"/>
</g>

<circle cx="338.6" cy="255.7" r="28.15" fill="none" stroke="#000" stroke-width="3.2"/>
<rect x="378.85" y="227.45" width="201.95" height="51.85" fill="#fff" stroke="#111" stroke-width="1.5"/>
<text class="cal ann" x="386.6" y="248.2" font-size="16.4" fill="#000" textLength="63.8" lengthAdjust="spacingAndGlyphs">1,055.08</text>
<text class="cal ann" x="455.6" y="248.2" font-size="16.4" fill="#000" textLength="28.6" lengthAdjust="spacingAndGlyphs">feet</text>
<text class="cal ann" x="489.4" y="248.2" font-size="16.4" fill="#000" textLength="45.0" lengthAdjust="spacingAndGlyphs">above</text>
<text class="cal ann" x="539.2" y="248.2" font-size="16.4" fill="#000" textLength="25.2" lengthAdjust="spacingAndGlyphs">sea</text>
<text class="cal ann" x="386.0" y="270.6" font-size="16.4" fill="#000" textLength="35.6" lengthAdjust="spacingAndGlyphs">level</text>
<text class="cal ann" x="425.4" y="270.6" font-size="16.4" fill="#000" textLength="35.0" lengthAdjust="spacingAndGlyphs">June</text>
<text class="cal ann" x="464.2" y="270.6" font-size="16.4" fill="#000" textLength="36.8" lengthAdjust="spacingAndGlyphs">2023</text>
<rect x="590.2" y="404.4" width="46.7" height="45.6" rx="8.5" ry="8.5" fill="url(#usgs)" stroke="#2f8f52" stroke-width="0.7"/>
<rect x="592.2" y="421.2" width="10.7" height="10.5" fill="#fff" opacity="0.5"/>
<path d="M592.2,421.2 H602.9 V423 L597.55,426.45 L602.9,429.9 V431.7 H592.2 V429.9 L597.55,426.45 L592.2,423 Z" fill="#fff"/>
<path d="M592.2,424.2 Q597.5,424.6 602.9,428.8 M592.2,425.6 Q597.5,426 602.9,427.6 M592.2,428.6 Q597.5,428.4 602.9,424.4 M592.2,427.3 Q597.5,427 602.9,425.6" stroke="#1f8a45" stroke-width="0.45" fill="none" opacity="0.8"/>
<text class="cal" x="604.4" y="431.55" font-size="14.4" font-weight="bold" fill="#fff" stroke="#fff" stroke-width="0.45" textLength="30.4" lengthAdjust="spacingAndGlyphs">USGS</text>

</svg></body></html>
